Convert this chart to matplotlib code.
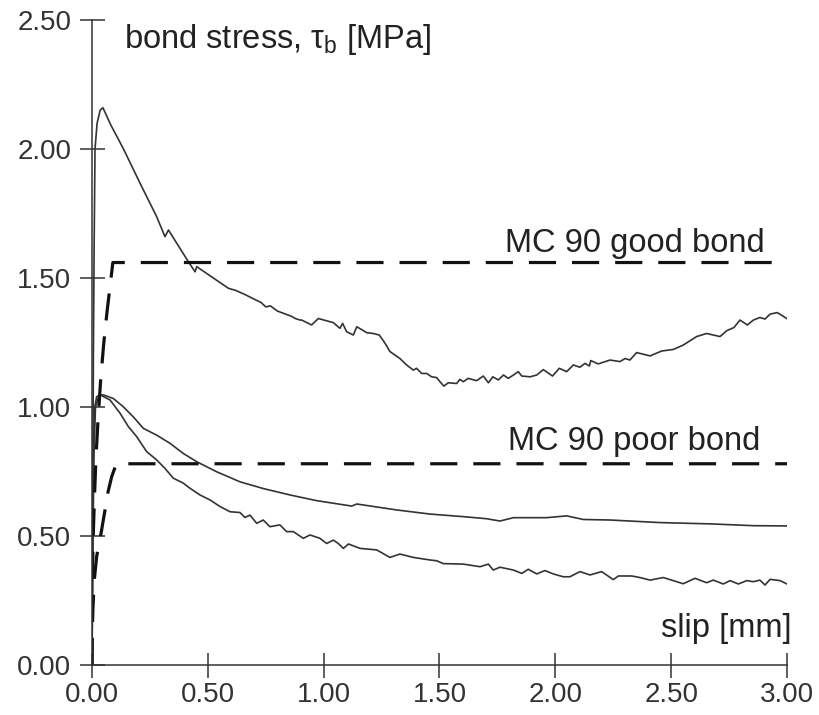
import matplotlib
matplotlib.use("Agg")
import matplotlib.pyplot as plt

plt.rcParams["font.family"] = ["Liberation Sans", "DejaVu Sans"]
plt.rcParams["mathtext.fontset"] = "custom"
plt.rcParams["mathtext.rm"] = "Liberation Sans"
plt.rcParams["mathtext.it"] = "Liberation Sans"

# Test curve, upper (slip in mm, bond stress in MPa)
upper_slip = [0.0, 0.003, 0.006, 0.009, 0.013, 0.022, 0.035, 0.047, 0.06, 0.08,
              0.136, 0.207, 0.279, 0.315, 0.330, 0.416, 0.445, 0.452, 0.589,
              0.62, 0.66, 0.70, 0.73, 0.75, 0.77, 0.80, 0.83, 0.86, 0.88,
              0.898, 0.905, 0.948, 0.977, 1.013, 1.042, 1.070, 1.082, 1.099,
              1.128, 1.143, 1.164, 1.186, 1.214, 1.240, 1.265, 1.286, 1.329,
              1.358, 1.387, 1.401, 1.423, 1.445, 1.466, 1.488, 1.502, 1.519,
              1.538, 1.574, 1.588, 1.603, 1.624, 1.660, 1.689, 1.711, 1.730,
              1.754, 1.776, 1.797, 1.819, 1.840, 1.855, 1.891, 1.920, 1.948,
              1.988, 2.017, 2.049, 2.078, 2.106, 2.128, 2.147, 2.153, 2.185,
              2.236, 2.279, 2.301, 2.322, 2.351, 2.409, 2.459, 2.509, 2.552,
              2.610, 2.653, 2.711, 2.740, 2.771, 2.797, 2.829, 2.855, 2.883,
              2.905, 2.927, 2.958, 2.999]
upper_tau = [0.0, 0.6, 1.2, 1.6, 2.0, 2.1, 2.15, 2.16, 2.135, 2.095,
             2.0, 1.868, 1.738, 1.660, 1.686, 1.563, 1.524, 1.544, 1.460,
             1.452, 1.436, 1.418, 1.405, 1.388, 1.392, 1.372, 1.362, 1.352, 1.342,
             1.337, 1.337, 1.318, 1.343, 1.334, 1.327, 1.305, 1.324, 1.292,
             1.279, 1.311, 1.300, 1.288, 1.285, 1.279, 1.247, 1.215, 1.188,
             1.163, 1.143, 1.150, 1.130, 1.130, 1.117, 1.114, 1.098, 1.081,
             1.094, 1.091, 1.107, 1.098, 1.111, 1.102, 1.120, 1.094, 1.117,
             1.105, 1.124, 1.111, 1.124, 1.137, 1.120, 1.117, 1.124, 1.145,
             1.120, 1.150, 1.137, 1.163, 1.154, 1.169, 1.159, 1.180, 1.167,
             1.182, 1.176, 1.188, 1.182, 1.211, 1.198, 1.217, 1.223, 1.240,
             1.273, 1.285, 1.273, 1.296, 1.308, 1.337, 1.318, 1.337, 1.347,
             1.341, 1.360, 1.366, 1.343]

# Test curve, middle (smooth)
middle_slip = [0.0, 0.004, 0.008, 0.015, 0.03, 0.049, 0.092, 0.135, 0.178, 0.222,
               0.279, 0.337, 0.394, 0.452, 0.538, 0.639, 0.739, 0.855, 0.970,
               1.121, 1.143, 1.315, 1.459, 1.603, 1.703, 1.761, 1.819, 1.962,
               2.049, 2.121, 2.236, 2.452, 2.668, 2.855, 3.0]
middle_tau = [0.0, 0.45, 0.8, 1.0, 1.045, 1.047, 1.033, 1.001, 0.962, 0.917,
              0.891, 0.859, 0.820, 0.788, 0.749, 0.710, 0.684, 0.659, 0.637,
              0.616, 0.624, 0.601, 0.585, 0.575, 0.567, 0.558, 0.571, 0.571,
              0.578, 0.564, 0.562, 0.552, 0.547, 0.540, 0.539]

# Test curve, lower (jagged)
lower_slip = [0.0, 0.003, 0.007, 0.012, 0.02, 0.035, 0.078, 0.121, 0.157, 0.193,
              0.236, 0.279, 0.315, 0.351, 0.394, 0.423, 0.466, 0.509, 0.553,
              0.596, 0.639, 0.660, 0.682, 0.711, 0.739, 0.768, 0.811, 0.840,
              0.869, 0.912, 0.941, 0.984, 1.013, 1.042, 1.063, 1.085, 1.107,
              1.157, 1.229, 1.286, 1.329, 1.387, 1.459, 1.488, 1.516, 1.603,
              1.675, 1.711, 1.732, 1.761, 1.819, 1.855, 1.883, 1.920, 1.955,
              1.991, 2.034, 2.063, 2.106, 2.150, 2.200, 2.250, 2.272, 2.330,
              2.365, 2.409, 2.466, 2.509, 2.552, 2.603, 2.653, 2.682, 2.725,
              2.754, 2.790, 2.826, 2.855, 2.883, 2.905, 2.927, 2.970, 3.0]
lower_tau = [0.0, 0.5, 0.85, 1.0, 1.04, 1.047, 1.027, 0.976, 0.924, 0.885,
             0.827, 0.795, 0.762, 0.724, 0.705, 0.685, 0.659, 0.640, 0.614,
             0.594, 0.591, 0.572, 0.581, 0.549, 0.562, 0.536, 0.543, 0.517,
             0.517, 0.491, 0.504, 0.491, 0.471, 0.484, 0.471, 0.452, 0.469,
             0.452, 0.446, 0.417, 0.430, 0.417, 0.407, 0.404, 0.393, 0.391,
             0.381, 0.391, 0.368, 0.379, 0.368, 0.355, 0.371, 0.353, 0.366,
             0.353, 0.342, 0.342, 0.362, 0.349, 0.362, 0.331, 0.345, 0.345,
             0.339, 0.329, 0.339, 0.327, 0.315, 0.336, 0.319, 0.329, 0.314,
             0.327, 0.314, 0.327, 0.323, 0.329, 0.310, 0.332, 0.327, 0.314]

# MC 90 bond-slip laws
good_slip = [0.0, 0.001, 0.003, 0.006, 0.011, 0.017, 0.026, 0.037, 0.050, 0.065, 0.09, 3.0]
good_tau = [0.0, 0.26, 0.40, 0.52, 0.66, 0.80, 0.95, 1.10, 1.24, 1.37, 1.56, 1.56]
poor_slip = [0.0, 0.001, 0.004, 0.010, 0.020, 0.039, 0.056, 0.069, 0.085, 0.105, 3.0]
poor_tau = [0.0, 0.12, 0.22, 0.33, 0.42, 0.51, 0.60, 0.67, 0.73, 0.78, 0.78]

xticks = [0.0, 0.5, 1.0, 1.5, 2.0, 2.5, 3.0]
yticks = [0.0, 0.5, 1.0, 1.5, 2.0, 2.5]

fig = plt.figure(figsize=(8.2, 7.15), dpi=100)
ax = fig.add_axes([92 / 820, 50 / 715, 695 / 820, 645 / 715])

line_col = "#333333"
ax.plot(upper_slip, upper_tau, color=line_col, lw=1.2)
ax.plot(middle_slip, middle_tau, color=line_col, lw=1.2)
ax.plot(lower_slip, lower_tau, color=line_col, lw=1.2)

dash = (0, (8.5, 5.0))
ax.plot(good_slip, good_tau, color="#111111", lw=2.3, linestyle=dash,
        dash_capstyle="butt")
ax.plot(poor_slip, poor_tau, color="#111111", lw=2.3, linestyle=dash,
        dash_capstyle="butt")

ax.set_xlim(0, 3.0)
ax.set_ylim(0, 2.5)
ax.set_xticks(xticks)
ax.set_yticks(yticks)
ax.set_xticklabels([f"{v:.2f}" for v in xticks])
ax.set_yticklabels([f"{v:.2f}" for v in yticks])

for side in ("top", "right"):
    ax.spines[side].set_visible(False)
for side in ("left", "bottom"):
    ax.spines[side].set_linewidth(1.1)
    ax.spines[side].set_color("#333333")

ax.tick_params(axis="both", direction="inout", length=18, width=1.1,
               colors="#333333", labelsize=20, labelcolor="#333333")
ax.tick_params(axis="y", pad=6.0)
ax.tick_params(axis="x", pad=3)
for lbl in ax.get_xticklabels() + ax.get_yticklabels():
    lbl.set_clip_on(False)

txt_kw = dict(fontsize=23.5, color="#222222")
ax.text(0.14, 2.39, r"bond stress, $\tau_{\rm b}$ [MPa]", ha="left",
        va="baseline", **txt_kw)
ax.text(1.783, 1.60, "MC 90 good bond", ha="left", va="baseline", **txt_kw)
ax.text(1.796, 0.833, "MC 90 poor bond", ha="left", va="baseline", **txt_kw)
ax.text(3.02, 0.109, "slip [mm]", ha="right", va="baseline", **txt_kw)

fig.savefig("out.png", dpi=100)
